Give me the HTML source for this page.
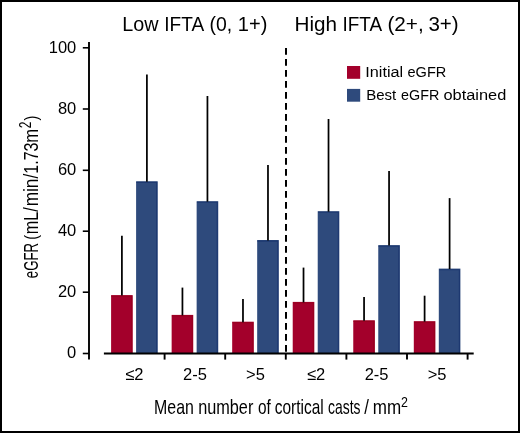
<!DOCTYPE html>
<html><head><meta charset="utf-8"><style>
html,body{margin:0;padding:0;background:#fff;}
body{width:520px;height:433px;overflow:hidden;}
svg{display:block;will-change:transform;}
text{font-family:"Liberation Sans",sans-serif;fill:#000;}
</style></head><body>
<svg width="520" height="433" viewBox="0 0 520 433">
<rect x="0" y="0" width="520" height="433" fill="#fff"/>
<rect x="111.10" y="295.10" width="21.6" height="58.50" fill="#a3002b"/>
<rect x="136.10" y="181.30" width="21.6" height="172.30" fill="#2e4a7c"/>
<path d="M111.40 296.20 H131.70 V353.6" fill="none" stroke="#97001f" stroke-width="1.1"/>
<path d="M136.40 182.40 H156.70 V353.6" fill="none" stroke="#1d3870" stroke-width="1.1"/>
<line x1="121.90" x2="121.90" y1="235.80" y2="295.60" stroke="#000" stroke-width="1.75"/>
<line x1="146.90" x2="146.90" y1="74.40" y2="181.80" stroke="#000" stroke-width="1.75"/>
<rect x="171.64" y="314.90" width="21.6" height="38.70" fill="#a3002b"/>
<rect x="196.64" y="201.20" width="21.6" height="152.40" fill="#2e4a7c"/>
<path d="M171.94 316.00 H192.24 V353.6" fill="none" stroke="#97001f" stroke-width="1.1"/>
<path d="M196.94 202.30 H217.24 V353.6" fill="none" stroke="#1d3870" stroke-width="1.1"/>
<line x1="182.44" x2="182.44" y1="287.60" y2="315.40" stroke="#000" stroke-width="1.75"/>
<line x1="207.44" x2="207.44" y1="96.00" y2="201.70" stroke="#000" stroke-width="1.75"/>
<rect x="232.18" y="321.70" width="21.6" height="31.90" fill="#a3002b"/>
<rect x="257.18" y="240.00" width="21.6" height="113.60" fill="#2e4a7c"/>
<path d="M232.48 322.80 H252.78 V353.6" fill="none" stroke="#97001f" stroke-width="1.1"/>
<path d="M257.48 241.10 H277.78 V353.6" fill="none" stroke="#1d3870" stroke-width="1.1"/>
<line x1="242.98" x2="242.98" y1="299.00" y2="322.20" stroke="#000" stroke-width="1.75"/>
<line x1="267.98" x2="267.98" y1="165.10" y2="240.50" stroke="#000" stroke-width="1.75"/>
<rect x="292.72" y="301.90" width="21.6" height="51.70" fill="#a3002b"/>
<rect x="317.72" y="211.20" width="21.6" height="142.40" fill="#2e4a7c"/>
<path d="M293.02 303.00 H313.32 V353.6" fill="none" stroke="#97001f" stroke-width="1.1"/>
<path d="M318.02 212.30 H338.32 V353.6" fill="none" stroke="#1d3870" stroke-width="1.1"/>
<line x1="303.52" x2="303.52" y1="267.60" y2="302.40" stroke="#000" stroke-width="1.75"/>
<line x1="328.52" x2="328.52" y1="119.00" y2="211.70" stroke="#000" stroke-width="1.75"/>
<rect x="353.26" y="320.30" width="21.6" height="33.30" fill="#a3002b"/>
<rect x="378.26" y="245.10" width="21.6" height="108.50" fill="#2e4a7c"/>
<path d="M353.56 321.40 H373.86 V353.6" fill="none" stroke="#97001f" stroke-width="1.1"/>
<path d="M378.56 246.20 H398.86 V353.6" fill="none" stroke="#1d3870" stroke-width="1.1"/>
<line x1="364.06" x2="364.06" y1="296.90" y2="320.80" stroke="#000" stroke-width="1.75"/>
<line x1="389.06" x2="389.06" y1="171.00" y2="245.60" stroke="#000" stroke-width="1.75"/>
<rect x="413.80" y="321.20" width="21.6" height="32.40" fill="#a3002b"/>
<rect x="438.80" y="268.60" width="21.6" height="85.00" fill="#2e4a7c"/>
<path d="M414.10 322.30 H434.40 V353.6" fill="none" stroke="#97001f" stroke-width="1.1"/>
<path d="M439.10 269.70 H459.40 V353.6" fill="none" stroke="#1d3870" stroke-width="1.1"/>
<line x1="424.60" x2="424.60" y1="295.70" y2="321.70" stroke="#000" stroke-width="1.75"/>
<line x1="449.60" x2="449.60" y1="198.10" y2="269.10" stroke="#000" stroke-width="1.75"/>
<line x1="286" x2="286" y1="47.9" y2="353" stroke="#000" stroke-width="2" stroke-dasharray="6.8 4.2"/>
<line x1="103.9" x2="473.7" y1="353.6" y2="353.6" stroke="#000" stroke-width="2"/>
<line x1="164.60" x2="164.60" y1="353.6" y2="359.6" stroke="#000" stroke-width="1.9"/>
<line x1="225.20" x2="225.20" y1="353.6" y2="359.6" stroke="#000" stroke-width="1.9"/>
<line x1="285.80" x2="285.80" y1="353.6" y2="359.6" stroke="#000" stroke-width="1.9"/>
<line x1="346.40" x2="346.40" y1="353.6" y2="359.6" stroke="#000" stroke-width="1.9"/>
<line x1="407.00" x2="407.00" y1="353.6" y2="359.6" stroke="#000" stroke-width="1.9"/>
<line x1="467.60" x2="467.60" y1="353.6" y2="359.6" stroke="#000" stroke-width="1.9"/>
<line x1="89" x2="89" y1="41.9" y2="359.6" stroke="#000" stroke-width="1.9"/>
<line x1="82.8" x2="89" y1="353.5" y2="353.5" stroke="#000" stroke-width="1.6"/>
<text x="76.3" y="358.40" text-anchor="end" font-size="16.5">0</text>
<line x1="82.8" x2="89" y1="292.2" y2="292.2" stroke="#000" stroke-width="1.6"/>
<text x="76.3" y="297.10" text-anchor="end" font-size="16.5">20</text>
<line x1="82.8" x2="89" y1="231.2" y2="231.2" stroke="#000" stroke-width="1.6"/>
<text x="76.3" y="236.10" text-anchor="end" font-size="16.5">40</text>
<line x1="82.8" x2="89" y1="170.3" y2="170.3" stroke="#000" stroke-width="1.6"/>
<text x="76.3" y="175.20" text-anchor="end" font-size="16.5">60</text>
<line x1="82.8" x2="89" y1="109.0" y2="109.0" stroke="#000" stroke-width="1.6"/>
<text x="76.3" y="113.90" text-anchor="end" font-size="16.5">80</text>
<line x1="82.8" x2="89" y1="47.8" y2="47.8" stroke="#000" stroke-width="1.6"/>
<text x="76.3" y="52.70" text-anchor="end" font-size="16.5">100</text>
<text x="134.40" y="379.8" text-anchor="middle" font-size="16.5">≤2</text>
<text x="194.94" y="379.8" text-anchor="middle" font-size="16.5">2-5</text>
<text x="255.48" y="379.8" text-anchor="middle" font-size="16.5">&gt;5</text>
<text x="316.02" y="379.8" text-anchor="middle" font-size="16.5">≤2</text>
<text x="376.56" y="379.8" text-anchor="middle" font-size="16.5">2-5</text>
<text x="437.10" y="379.8" text-anchor="middle" font-size="16.5">&gt;5</text>
<rect x="347" y="66" width="13.2" height="12.8" fill="#a3002b"/>
<rect x="347" y="88.9" width="13.2" height="12.8" fill="#2e4a7c"/>
<text transform="translate(122.29,30.8) scale(0.9746,1)" font-size="20.3">Low</text>
<text transform="translate(164.25,30.8) scale(0.9407,1)" font-size="20.3">IFTA</text>
<text transform="translate(209.60,30.8) scale(0.9561,1)" font-size="20.3">(0,</text>
<text transform="translate(237.82,30.8) scale(0.9889,1)" font-size="20.3">1+)</text>
<text transform="translate(294.52,30.8) scale(1.0194,1)" font-size="20.3">High</text>
<text transform="translate(342.47,30.8) scale(0.9333,1)" font-size="20.3">IFTA</text>
<text transform="translate(387.42,30.8) scale(1.0215,1)" font-size="20.3">(2+,</text>
<text transform="translate(428.44,30.8) scale(1.0126,1)" font-size="20.3">3+)</text>
<text transform="translate(365.23,77.0) scale(1.0489,1)" font-size="15.5">Initial</text>
<text transform="translate(407.50,77.0) scale(0.9384,1)" font-size="15.5">eGFR</text>
<text transform="translate(366.19,100.0) scale(0.9681,1)" font-size="15.5">Best</text>
<text transform="translate(401.01,100.0) scale(0.9258,1)" font-size="15.5">eGFR</text>
<text transform="translate(443.41,100.0) scale(1.0580,1)" font-size="15.5">obtained</text>
<text transform="translate(154.11,413.8) scale(0.7957,1)" font-size="20">Mean</text>
<text transform="translate(198.18,413.8) scale(0.8136,1)" font-size="20">number</text>
<text transform="translate(257.92,413.8) scale(0.7688,1)" font-size="20">of</text>
<text transform="translate(274.82,413.8) scale(0.7722,1)" font-size="20">cortical</text>
<text transform="translate(328.08,413.8) scale(0.6939,1)" font-size="20">casts</text>
<text transform="translate(364.20,413.8) scale(0.8364,1)" font-size="20">/</text>
<text transform="translate(372.73,413.8) scale(0.8520,1)" font-size="20">mm</text>
<text transform="translate(400.89,406.8) scale(0.8143,1)" font-size="15.3">2</text>
<text transform="translate(38.2,278.20) rotate(-90) scale(0.6602,1)" font-size="20">eGFR</text>
<text transform="translate(36.85,239.77) rotate(-90) scale(0.7789,1)" font-size="18.8">(</text>
<text transform="translate(38.2,234.32) rotate(-90) scale(0.8125,1)" font-size="20">mL/</text>
<text transform="translate(38.2,206.28) rotate(-90) scale(0.8603,1)" font-size="20">min/</text>
<text transform="translate(38.2,173.70) rotate(-90) scale(0.8000,1)" font-size="20">1.73</text>
<text transform="translate(38.2,142.74) rotate(-90) scale(0.8357,1)" font-size="20">m</text>
<text transform="translate(31.3,128.36) rotate(-90) scale(0.7448,1)" font-size="16">2</text>
<text transform="translate(36.85,120.59) rotate(-90) scale(0.7789,1)" font-size="18.8">)</text>
<rect x="1" y="1" width="518" height="431" fill="none" stroke="#000" stroke-width="2"/>
</svg>
</body></html>
